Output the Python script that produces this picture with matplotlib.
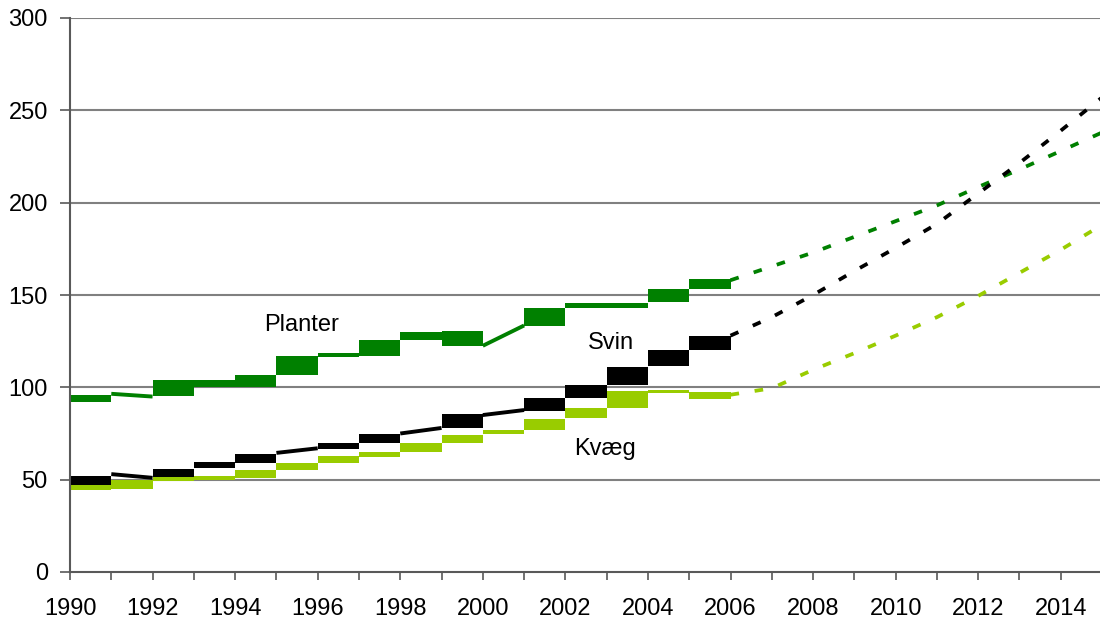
import matplotlib
matplotlib.use("Agg")
import matplotlib.pyplot as plt
import numpy as np

plt.rcParams['font.family'] = ['Liberation Sans', 'DejaVu Sans']

# ---- data ----
seg_years = list(range(1990, 2006))          # each segment spans year -> year+1
# start / end value of each yearly segment (historic part)
planter_start = [92, 96.5, 95.5, 100, 100, 106.5, 116.5, 117, 125.5, 130.5, 122.5, 133, 143, 143, 146, 153]
planter_end   = [96, 95, 104, 104, 106.5, 117, 118.5, 125.5, 130, 122.5, 133.5, 143, 145.5, 145.5, 153, 158.5]
svin_start = [47, 53, 50, 56.5, 59, 64.5, 66.5, 70, 75, 78, 85, 87, 94, 101, 111.5, 120]
svin_end   = [52, 51, 56, 59.5, 64, 67, 70, 75, 78, 85.5, 87.7, 94, 101, 111, 120, 128]
kvaeg_start = [44.5, 45, 49.5, 50, 51, 55, 59, 62.5, 65, 70, 74.5, 77, 83.5, 89, 97, 97.5]
kvaeg_end   = [47, 50, 51.5, 52, 55, 59, 63, 65, 70, 74, 77, 83, 89, 98, 98.5, 93.5]
# segments drawn as a sloped stroke rather than a block (rendering style of the original)
planter_stroke = [1991, 2000]
svin_stroke = [1991, 1995, 1998, 2000]
kvaeg_stroke = []

# projection part
proj_years = list(range(2006, 2016))
planter_proj = [158, 165.5, 173, 181.5, 190, 198.5, 208.5, 218, 228, 238]
svin_proj    = [128, 138, 150, 163, 175.5, 188.5, 205, 221.5, 239, 257]
kvaeg_proj   = [96, 99.5, 109.5, 118.5, 128, 138, 149.5, 162, 174.5, 188]

labels = {"Planter": (1995.6, 133.5), "Svin": (2003.1, 124), "Kvæg": (2002.95, 66.5)}

C_PLANTER = "#008000"
C_SVIN = "#000000"
C_KVAEG = "#99CC00"

fig = plt.figure(figsize=(11, 6.22), dpi=100)
ax = fig.add_axes([70/1100, 50/622, 1030/1100, 554/622])

ax.set_xlim(1990, 2014.95)
ax.set_ylim(0, 300)
ax.set_yticks(np.arange(0, 301, 50))
ax.set_xticks(np.arange(1990, 2015, 1), minor=False)
ax.set_xticklabels([str(y) if (y % 2 == 0) else "" for y in range(1990, 2015)])

for y in range(50, 301, 50):
    ax.axhline(y, color="#808080", lw=1.5, zorder=1)

def draw_series(starts, ends, strokes, proj, color):
    for yr, s, e in zip(seg_years, starts, ends):
        if yr in strokes:
            ax.plot([yr, yr + 1], [s, e], color=color, lw=2.8,
                    solid_capstyle='butt', zorder=3)
        else:
            lo, hi = min(s, e), max(s, e)
            ax.bar(yr, hi - lo, bottom=lo, width=1, align='edge',
                   color=color, linewidth=0, zorder=3)
    ax.plot(proj_years, proj, color=color, lw=2.7,
            dashes=(2.3, 4.2), dash_capstyle='butt', zorder=3, clip_on=True)

draw_series(planter_start, planter_end, planter_stroke, planter_proj, C_PLANTER)
draw_series(svin_start, svin_end, svin_stroke, svin_proj, C_SVIN)
draw_series(kvaeg_start, kvaeg_end, kvaeg_stroke, kvaeg_proj, C_KVAEG)

for txt, (x, y) in labels.items():
    ax.text(x, y, txt, fontsize=17, ha='center', va='center', color='#000000', zorder=4)

for side in ("top", "right"):
    ax.spines[side].set_visible(False)
for side in ("left", "bottom"):
    ax.spines[side].set_color("#595959")
    ax.spines[side].set_linewidth(1.5)
    ax.spines[side].set_zorder(5)

ax.tick_params(axis='y', direction='out', length=7, width=1.2, color="#595959",
               labelsize=17, pad=9)
ax.tick_params(axis='x', direction='out', length=6, width=1.2, color="#595959",
               labelsize=17, pad=13)

fig.savefig("out.png", dpi=100)
